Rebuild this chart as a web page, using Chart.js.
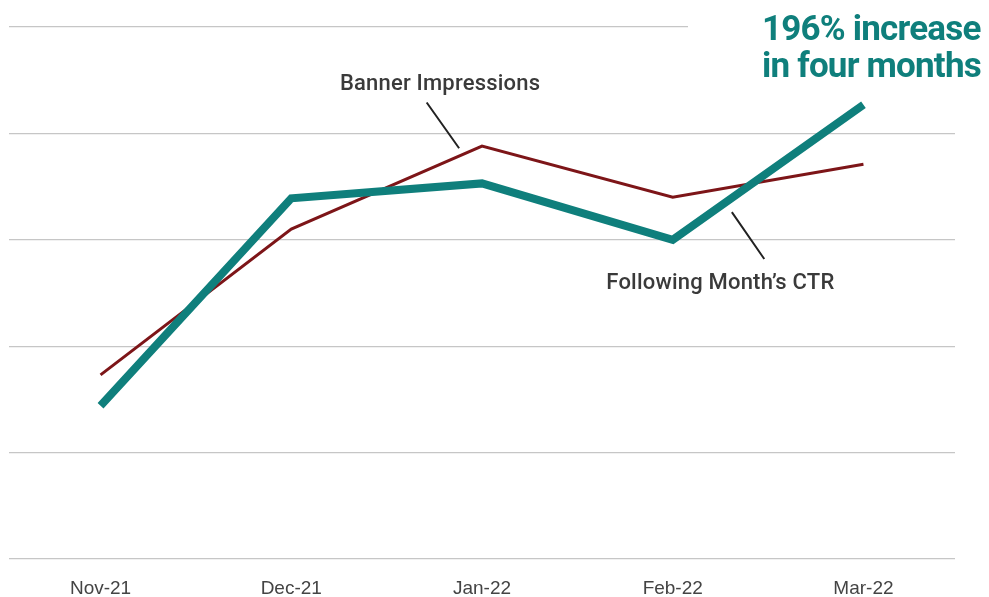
<!DOCTYPE html>
<html>
<head>
<meta charset="utf-8">
<script src="https://cdn.jsdelivr.net/npm/chart.js@4"></script>
<style>
  html, body { margin: 0; padding: 0; background: #fff; }
  #wrap { width: 989px; height: 597px; }
</style>
</head>
<body>
<div id="wrap"><canvas id="grafico"></canvas></div>
<script>
// dados
const meses = ['Nov-21', 'Dec-21', 'Jan-22', 'Feb-22', 'Mar-22'];
const ctrMesSeguinte = [1.44, 3.39, 3.53, 3.0, 4.27];
const impressoesBanner = [1.73, 3.1, 3.88, 3.4, 3.71];
const ticksY = [0, 1, 2, 3, 4, 5];

const corTeal = '#0f7f7c';
const corVinho = '#7d1518';
const corTexto = '#3a3a3a';

// anotações desenhadas por cima do gráfico
const anotacoes = {
  id: 'anotacoes',
  afterDatasetsDraw(chart) {
    const { ctx } = chart;
    const x = chart.scales.x;
    const y = chart.scales.y;
    ctx.save();

    // fundo branco atrás do destaque (corta a linha de grade superior)
    ctx.fillStyle = '#fff';
    ctx.fillRect(x.getPixelForValue(3.08), 5, 989, 80);

    ctx.strokeStyle = '#222';
    ctx.lineWidth = 2;
    ctx.beginPath();
    ctx.moveTo(x.getPixelForValue(1.71), y.getPixelForValue(4.29));
    ctx.lineTo(x.getPixelForValue(1.88), y.getPixelForValue(3.86));
    ctx.moveTo(x.getPixelForValue(3.31), y.getPixelForValue(3.26));
    ctx.lineTo(x.getPixelForValue(3.48), y.getPixelForValue(2.82));
    ctx.stroke();

    ctx.fillStyle = corTexto;
    ctx.font = '500 22px Roboto';
    ctx.letterSpacing = '0.2px';
    ctx.textAlign = 'center';
    ctx.textBaseline = 'middle';
    ctx.fillText('Banner Impressions', x.getPixelForValue(1.78), 84);
    ctx.fillText('Following Month\u2019s CTR', x.getPixelForValue(3.25), 283);

    ctx.fillStyle = corTeal;
    ctx.font = 'bold 35px Roboto';
    ctx.letterSpacing = '-0.8px';
    ctx.textAlign = 'left';
    ctx.textBaseline = 'alphabetic';
    ctx.fillText('196% increase', 762, 40);
    ctx.fillText('in four months', 762, 77);
    ctx.restore();
  },
};

const ctx = document.getElementById('grafico').getContext('2d');
const chart = new Chart(ctx, {
  type: 'line',
  data: {
    datasets: [
      {
        label: 'Following Month\u2019s CTR',
        data: ctrMesSeguinte.map((v, i) => ({ x: i, y: v })),
        borderColor: corTeal,
        borderWidth: 8,
        borderJoinStyle: 'miter',
        pointRadius: 0,
        tension: 0,
        order: 0,
      },
      {
        label: 'Banner Impressions',
        data: impressoesBanner.map((v, i) => ({ x: i, y: v })),
        borderColor: corVinho,
        borderWidth: 3,
        pointRadius: 0,
        tension: 0,
        order: 1,
      },
    ],
  },
  options: {
    responsive: true,
    maintainAspectRatio: false,
    animation: false,
    layout: { padding: { left: 9, right: 34, top: 27, bottom: 0 } },
    plugins: { legend: { display: false }, tooltip: { enabled: false } },
    scales: {
      x: {
        type: 'linear',
        min: -0.48,
        max: 4.48,
        afterBuildTicks: (scale) => {
          scale.ticks = meses.map((_, i) => ({ value: i }));
        },
        afterFit: (scale) => {
          scale.height = 38;
        },
        grid: { display: false, drawTicks: false },
        border: { display: false },
        ticks: {
          padding: 18,
          color: '#444',
          font: { family: 'Liberation Sans', size: 19 },
          maxRotation: 0,
          callback: (v) => meses[v],
        },
      },
      y: {
        min: 0,
        max: 5,
        afterBuildTicks: (scale) => {
          scale.ticks = ticksY.map((v) => ({ value: v }));
        },
        grid: { color: '#c6c6c6', lineWidth: 1.2, drawTicks: false },
        border: { display: false },
        ticks: { display: false },
      },
    },
  },
  plugins: [anotacoes],
});
</script>
</body>
</html>
